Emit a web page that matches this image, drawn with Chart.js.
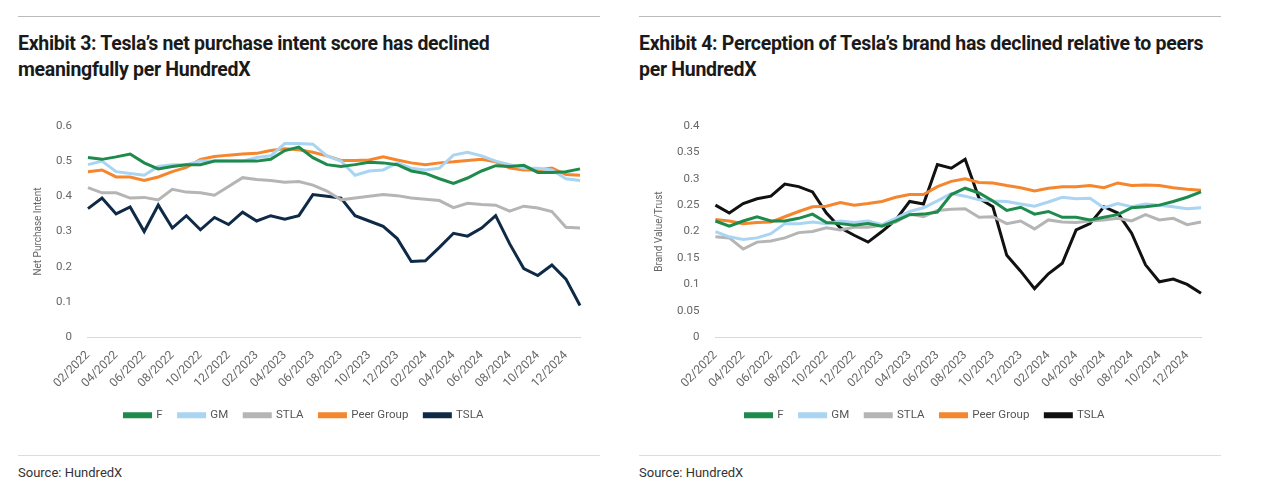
<!DOCTYPE html>
<html lang="en">
<head>
<meta charset="UTF-8" />
<title>HundredX Tesla exhibits</title>
<script src="https://cdn.jsdelivr.net/npm/chart.js"></script>
<style>
  * { margin: 0; padding: 0; box-sizing: border-box; }
  body { background: #fff; width: 1280px; height: 497px; font-family: Roboto, sans-serif; position: relative; overflow: hidden; }
  .panel { position: absolute; top: 16px; width: 582px; border-top: 1px solid #bbb; }
  .panel h2 { font-size: 19.5px; font-weight: 700; color: #1a1a1a; line-height: 26px; margin-top: 14px; letter-spacing: -0.3px; }
  .chart { position: absolute; top: 94px; left: 0; width: 582px; height: 320px; }
  .src { position: absolute; top: 438px; width: 582px; border-top: 1px solid #ddd; padding-top: 9px; font-size: 13px; color: #333; }
</style>
</head>
<body>
  <div class="panel" style="left:18px">
    <h2>Exhibit 3: Tesla’s net purchase intent score has declined<br>meaningfully per HundredX</h2>
    <div class="chart"><canvas id="c1"></canvas></div>
    <div class="src">Source: HundredX</div>
  </div>
  <div class="panel" style="left:639px">
    <h2>Exhibit 4: Perception of Tesla’s brand has declined relative to peers<br>per HundredX</h2>
    <div class="chart"><canvas id="c2"></canvas></div>
    <div class="src">Source: HundredX</div>
  </div>
<script>
// monthly, 02/2022 .. 01/2025
const months = [];
for (let y = 2022; y <= 2025; y++) for (let m = 1; m <= 12; m++) {
  if ((y === 2022 && m < 2) || (y === 2025 && m > 1)) continue;
  months.push(String(m).padStart(2, '0') + '/' + y);
}

// Exhibit 3: net purchase intent
const intentF = [0.51,0.505,0.512,0.52,0.495,0.478,0.485,0.49,0.49,0.50,0.50,0.50,0.50,0.505,0.53,0.54,0.51,0.49,0.485,0.49,0.497,0.495,0.49,0.472,0.465,0.45,0.437,0.452,0.472,0.487,0.485,0.488,0.468,0.468,0.47,0.478];
const intentGM = [0.49,0.50,0.47,0.465,0.46,0.485,0.49,0.49,0.50,0.50,0.50,0.50,0.51,0.515,0.55,0.55,0.548,0.515,0.50,0.46,0.472,0.475,0.495,0.48,0.475,0.48,0.517,0.525,0.515,0.50,0.49,0.48,0.48,0.475,0.45,0.445];
const intentSTLA = [0.425,0.41,0.41,0.395,0.397,0.39,0.42,0.412,0.41,0.403,0.428,0.453,0.448,0.445,0.44,0.442,0.432,0.415,0.39,0.395,0.40,0.405,0.402,0.395,0.392,0.388,0.368,0.38,0.377,0.375,0.358,0.372,0.367,0.357,0.312,0.31];
const intentPeer = [0.47,0.475,0.455,0.455,0.445,0.455,0.47,0.482,0.505,0.513,0.517,0.52,0.522,0.53,0.535,0.532,0.525,0.515,0.502,0.502,0.503,0.512,0.503,0.495,0.49,0.495,0.498,0.502,0.505,0.498,0.48,0.475,0.475,0.48,0.462,0.46];
const intentTSLA = [0.365,0.395,0.35,0.37,0.30,0.375,0.31,0.345,0.305,0.34,0.32,0.355,0.33,0.345,0.335,0.345,0.405,0.40,0.395,0.345,0.33,0.315,0.28,0.215,0.217,0.255,0.295,0.287,0.31,0.345,0.265,0.195,0.175,0.205,0.165,0.09];

// Exhibit 4: brand value / trust
const trustF = [0.22,0.21,0.22,0.228,0.22,0.22,0.225,0.233,0.217,0.215,0.212,0.215,0.21,0.22,0.232,0.233,0.237,0.27,0.282,0.273,0.258,0.24,0.246,0.233,0.238,0.227,0.227,0.222,0.227,0.232,0.245,0.247,0.25,0.257,0.265,0.275];
const trustGM = [0.20,0.19,0.185,0.188,0.196,0.215,0.215,0.218,0.215,0.22,0.217,0.22,0.213,0.225,0.238,0.245,0.258,0.272,0.267,0.26,0.258,0.257,0.252,0.248,0.256,0.265,0.262,0.263,0.245,0.253,0.247,0.252,0.25,0.247,0.243,0.245];
const trustSTLA = [0.19,0.188,0.167,0.18,0.182,0.188,0.198,0.20,0.207,0.203,0.208,0.208,0.212,0.218,0.233,0.228,0.24,0.242,0.243,0.227,0.228,0.215,0.22,0.205,0.222,0.218,0.217,0.22,0.222,0.225,0.22,0.232,0.222,0.225,0.213,0.218];
const trustPeer = [0.223,0.22,0.215,0.217,0.218,0.228,0.238,0.247,0.248,0.255,0.25,0.253,0.257,0.265,0.27,0.27,0.285,0.295,0.30,0.293,0.292,0.287,0.283,0.277,0.282,0.285,0.285,0.287,0.283,0.292,0.287,0.288,0.287,0.283,0.28,0.278];
const trustTSLA = [0.25,0.235,0.253,0.262,0.267,0.29,0.285,0.275,0.235,0.207,0.193,0.18,0.20,0.222,0.257,0.252,0.327,0.32,0.337,0.263,0.247,0.155,0.125,0.092,0.12,0.14,0.203,0.215,0.247,0.235,0.197,0.137,0.105,0.11,0.10,0.083];

const seriesNames = ['F', 'GM', 'STLA', 'Peer Group', 'TSLA'];
const baseColors = ['#1e8a4c', '#a9d4f2', '#b5b5b5', '#f5862e'];

function makeChart(id, sets, tslaColor, yMax, yStep, yTitle) {
  const colors = baseColors.concat([tslaColor]);
  new Chart(document.getElementById(id), {
    type: 'line',
    data: {
      labels: months,
      datasets: sets.map((d, i) => ({
        label: seriesNames[i], data: d, borderColor: colors[i], backgroundColor: colors[i],
        borderWidth: 3, pointRadius: 0, tension: 0
      }))
    },
    options: {
      responsive: true, maintainAspectRatio: false, animation: false,
      layout: { padding: { left: 10, right: 20, top: 0 } },
      plugins: {
        legend: {
          position: 'bottom',
          labels: { boxWidth: 26, boxHeight: 3, color: '#555', font: { size: 11.5, family: 'Roboto' }, padding: 16 }
        },
        tooltip: { enabled: false }
      },
      scales: {
        x: {
          grid: { display: false },
          border: { color: '#d9d9d9' },
          ticks: {
            autoSkip: false, maxRotation: 45, minRotation: 45, color: '#666',
            font: { size: 12, family: 'Roboto' },
            callback: (v, i) => (i % 2 === 0 ? months[i] : '')
          }
        },
        y: {
          min: 0, max: yMax,
          grid: { display: false },
          border: { display: false },
          ticks: {
            stepSize: yStep, color: '#666', font: { size: 11.5, family: 'Roboto' }, padding: 8,
            callback: v => String(Math.round(v * 100) / 100)
          },
          title: { display: true, text: yTitle, color: '#666', font: { size: 10, family: 'Roboto' } }
        }
      }
    }
  });
}

makeChart('c1', [intentF, intentGM, intentSTLA, intentPeer, intentTSLA], '#0e2a47', 0.6, 0.1, 'Net Purchase Intent');
makeChart('c2', [trustF, trustGM, trustSTLA, trustPeer, trustTSLA], '#111111', 0.4, 0.05, 'Brand Value/Trust');
</script>
</body>
</html>
